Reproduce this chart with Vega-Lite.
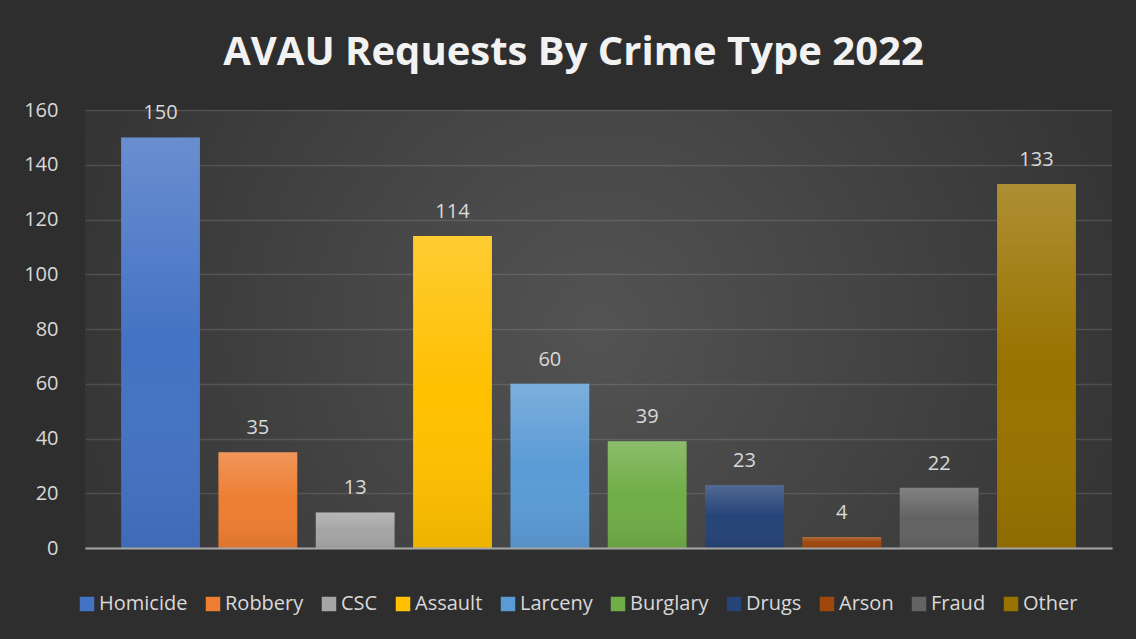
{
  "$schema": "https://vega.github.io/schema/vega-lite/v6.json",
  "width": 1027,
  "height": 438,
  "autosize": {"type": "none"},
  "padding": {"left": 85, "top": 110, "right": 24, "bottom": 91},
  "background": "#2e2e2e",
  "title": {
    "text": "AVAU Requests By Crime Type 2022",
    "font": "Open Sans",
    "fontSize": 40,
    "fontWeight": "bold",
    "color": "#f2f2f2",
    "anchor": "middle",
    "frame": "group",
    "dx": -25,
    "offset": -5,
    "baseline": "alphabetic"
  },
  "config": {
    "font": "Open Sans",
    "view": {
      "stroke": null,
      "fill": {
        "gradient": "radial",
        "x1": 0.5, "y1": 0.5, "r1": 0,
        "x2": 0.5, "y2": 0.5, "r2": 0.72,
        "stops": [
          {"offset": 0, "color": "#535353"},
          {"offset": 0.7, "color": "#363636"},
          {"offset": 1, "color": "#2c2c2c"}
        ]
      }
    }
  },
  "data": {
    "values": [
      {"type": "Homicide", "count": 150},
      {"type": "Robbery", "count": 35},
      {"type": "CSC", "count": 13},
      {"type": "Assault", "count": 114},
      {"type": "Larceny", "count": 60},
      {"type": "Burglary", "count": 39},
      {"type": "Drugs", "count": 23},
      {"type": "Arson", "count": 4},
      {"type": "Fraud", "count": 22},
      {"type": "Other", "count": 133}
    ]
  },
  "encoding": {
    "x": {
      "field": "type",
      "type": "nominal",
      "sort": null,
      "scale": {"paddingInner": 0.19, "paddingOuter": 0.371},
      "axis": {
        "labels": false,
        "ticks": false,
        "title": null,
        "domainColor": "#a6a6a6",
        "domainWidth": 2,
        "zindex": 1
      }
    },
    "y": {
      "field": "count",
      "type": "quantitative",
      "scale": {"domain": [0, 160]},
      "axis": {
        "values": [0, 20, 40, 60, 80, 100, 120, 140, 160],
        "title": null,
        "ticks": false,
        "domain": false,
        "labelFontSize": 20,
        "labelColor": "#d9d9d9",
        "labelPadding": 27,
        "gridColor": "#ffffff",
        "gridOpacity": 0.12,
        "gridWidth": 1.3
      }
    }
  },
  "layer": [
    {
      "mark": {"type": "bar"},
      "encoding": {
        "fill": {
          "field": "type",
          "type": "nominal",
          "sort": null,
          "scale": {
            "domain": ["Homicide", "Robbery", "CSC", "Assault", "Larceny", "Burglary", "Drugs", "Arson", "Fraud", "Other"],
            "range": ["#4472c4", "#ed7d31", "#a5a5a5", "#ffc000", "#5b9bd5", "#70ad47", "#264478", "#9e480e", "#636363", "#997300"]
          },
          "legend": {
            "orient": "none",
            "legendX": -8,
            "legendY": 484,
            "direction": "horizontal",
            "columns": 10,
            "title": null,
            "symbolType": "square",
            "symbolSize": 210,
            "symbolStrokeWidth": 0,
            "symbolOpacity": 1,
            "labelFont": "Open Sans",
            "labelFontSize": 20,
            "labelColor": "#d9d9d9",
            "labelOffset": 2,
            "columnPadding": 15
          }
        }
      }
    },
    {
      "mark": {
        "type": "bar",
        "fill": {
          "gradient": "linear",
          "x1": 0, "y1": 0, "x2": 0, "y2": 1,
          "stops": [
            {"offset": 0, "color": "rgba(255,255,255,0.2)"},
            {"offset": 0.5, "color": "rgba(255,255,255,0)"},
            {"offset": 1, "color": "rgba(0,0,0,0.07)"}
          ]
        }
      },
      "encoding": {}
    },
    {
      "mark": {"type": "text", "dy": -18, "baseline": "alphabetic", "fontSize": 20, "color": "#d9d9d9", "font": "Open Sans"},
      "encoding": {
        "text": {"field": "count", "type": "quantitative"}
      }
    }
  ]
}
